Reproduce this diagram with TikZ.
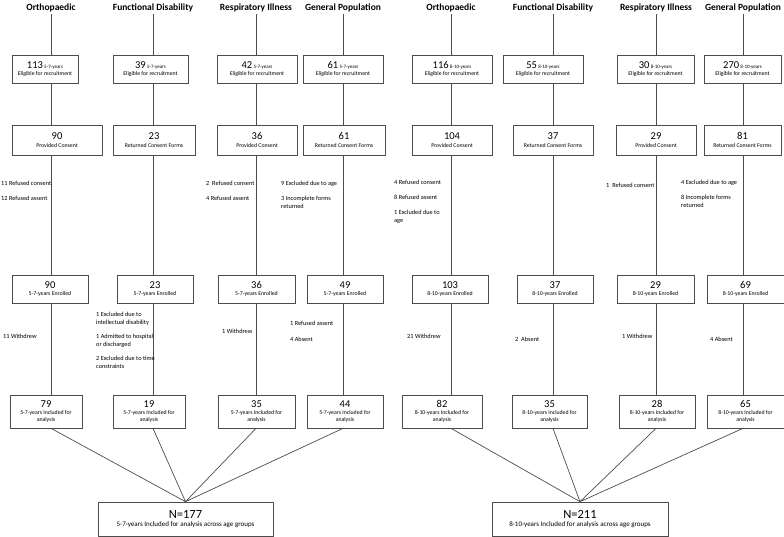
\documentclass[tikz,border=0pt]{standalone}
\usepackage{fontspec}
\setmainfont{Carlito}
\usepackage{tikz}
\usetikzlibrary{positioning,calc}

\newcommand{\bignum}[1]{{\fontsize{10.5}{12}\selectfont #1}}
\newcommand{\agetag}[1]{{\fontsize{5}{6}\selectfont #1}}

\begin{document}
\begin{tikzpicture}[x=1pt, y=-1pt,
    hdr/.style={font=\fontsize{9.5}{11}\selectfont\bfseries, inner sep=2pt},
    box/.style={rectangle, draw=black!70, line width=0.7pt, align=center, inner sep=1pt, font=\fontsize{5.8}{7}\selectfont},
    finalbox/.style={rectangle, draw=black!70, line width=0.7pt, align=center, minimum width=176pt, minimum height=34pt, font=\fontsize{7}{8.5}\selectfont},
    note/.style={anchor=north west, inner sep=0pt, align=left, font=\fontsize{6.3}{7.5}\selectfont},
    link/.style={draw=black!70, line width=0.7pt},
]
\useasboundingbox (0,0) rectangle (784,537);

% === HEADERS ===
\node[hdr] (hd1) at (51,8) {Orthopaedic};
\node[hdr] (hd2) at (153,8) {Functional Disability};
\node[hdr] (hd3) at (256,8) {Respiratory Illness};
\node[hdr] (hd4) at (343,8) {General Population};
\node[hdr] (hd5) at (451,8) {Orthopaedic};
\node[hdr] (hd6) at (553,8) {Functional Disability};
\node[hdr] (hd7) at (656,8) {Respiratory Illness};
\node[hdr] (hd8) at (743,8) {General Population};

% === ELIGIBLE ===
\node[box, minimum width=66pt, minimum height=28pt] (el1) at (45,69) {\bignum{113} \agetag{5-7-years}\\Eligible for recruitment};
\node[box, minimum width=75pt, minimum height=28pt] (el2) at (150.5,69) {\bignum{39} \agetag{5-7-years}\\Eligible for recruitment};
\node[box, minimum width=80pt, minimum height=28pt] (el3) at (257,69) {\bignum{42} \agetag{5-7-years}\\Eligible for recruitment};
\node[box, minimum width=80pt, minimum height=28pt] (el4) at (343,69) {\bignum{61} \agetag{5-7-years}\\Eligible for recruitment};
\node[box, minimum width=80pt, minimum height=28pt] (el5) at (452,69) {\bignum{116} \agetag{8-10-years}\\Eligible for recruitment};
\node[box, minimum width=80pt, minimum height=28pt] (el6) at (543,69) {\bignum{55} \agetag{8-10-years}\\Eligible for recruitment};
\node[box, minimum width=77pt, minimum height=28pt] (el7) at (655.5,69) {\bignum{30} \agetag{8-10-years}\\Eligible for recruitment};
\node[box, minimum width=77pt, minimum height=28pt] (el8) at (742.5,69) {\bignum{270} \agetag{8-10-years}\\Eligible for recruitment};

% === CONSENT ===
\node[box, minimum width=90pt, minimum height=30pt] (co1) at (57,140) {\bignum{90}\\[1pt]Provided Consent};
\node[box, minimum width=82pt, minimum height=30pt] (co2) at (154,140) {\bignum{23}\\[1pt]Returned Consent Forms};
\node[box, minimum width=80pt, minimum height=30pt] (co3) at (257,140) {\bignum{36}\\[1pt]Provided Consent};
\node[box, minimum width=82pt, minimum height=30pt] (co4) at (344,140) {\bignum{61}\\[1pt]Returned Consent Forms};
\node[box, minimum width=80pt, minimum height=30pt] (co5) at (452,140) {\bignum{104}\\[1pt]Provided Consent};
\node[box, minimum width=80pt, minimum height=30pt] (co6) at (553,140) {\bignum{37}\\[1pt]Returned Consent Forms};
\node[box, minimum width=80pt, minimum height=30pt] (co7) at (656,140) {\bignum{29}\\[1pt]Provided Consent};
\node[box, minimum width=77pt, minimum height=30pt] (co8) at (742.5,140) {\bignum{81}\\[1pt]Returned Consent Forms};

% === ENROLLED ===
\node[box, minimum width=76pt, minimum height=28pt] (en1) at (50,289) {\bignum{90}\\5-7-years Enrolled};
\node[box, minimum width=76pt, minimum height=28pt] (en2) at (155,289) {\bignum{23}\\5-7-years Enrolled};
\node[box, minimum width=77pt, minimum height=28pt] (en3) at (256.5,289) {\bignum{36}\\5-7-years Enrolled};
\node[box, minimum width=76pt, minimum height=28pt] (en4) at (345,289) {\bignum{49}\\5-7-years Enrolled};
\node[box, minimum width=76pt, minimum height=28pt] (en5) at (450,289) {\bignum{103}\\8-10-years Enrolled};
\node[box, minimum width=76pt, minimum height=28pt] (en6) at (555,289) {\bignum{37}\\8-10-years Enrolled};
\node[box, minimum width=77pt, minimum height=28pt] (en7) at (655.5,289) {\bignum{29}\\8-10-years Enrolled};
\node[box, minimum width=77pt, minimum height=28pt] (en8) at (745.5,289) {\bignum{69}\\8-10-years Enrolled};

% === INCLUDED ===
\node[box, minimum width=72pt, minimum height=33pt] (in1) at (46,411.5) {\bignum{79}\\5-7-years Included for\\analysis};
\node[box, minimum width=72pt, minimum height=33pt] (in2) at (149,411.5) {\bignum{19}\\5-7-years Included for\\analysis};
\node[box, minimum width=77pt, minimum height=33pt] (in3) at (256.5,411.5) {\bignum{35}\\5-7-years Included for\\analysis};
\node[box, minimum width=76pt, minimum height=33pt] (in4) at (345,411.5) {\bignum{44}\\5-7-years Included for\\analysis};
\node[box, minimum width=80pt, minimum height=33pt] (in5) at (442,411.5) {\bignum{82}\\8-10-years Included for\\analysis};
\node[box, minimum width=75pt, minimum height=33pt] (in6) at (549.5,411.5) {\bignum{35}\\8-10-years Included for\\analysis};
\node[box, minimum width=76pt, minimum height=33pt] (in7) at (657,411.5) {\bignum{28}\\8-10-years Included for\\analysis};
\node[box, minimum width=77pt, minimum height=33pt] (in8) at (745.5,411.5) {\bignum{65}\\8-10-years Included for\\analysis};

% === TOTALS ===
\node[finalbox, minimum width=175pt] (fin1) at (185.5,519) {{\fontsize{12.5}{14}\selectfont N=177}\\5-7-years Included for analysis across age groups};
\node[finalbox] (fin2) at (580,519) {{\fontsize{12.5}{14}\selectfont N=211}\\8-10-years Included for analysis across age groups};

% column lines
\draw[link] (hd1) -- (hd1 |- el1.north) (el1.south -| hd1) -- (co1.north -| hd1) (co1.south -| hd1) -- (en1.north -| hd1) (en1.south -| hd1) -- (in1.north -| hd1);
\draw[link] (hd2) -- (hd2 |- el2.north) (el2.south -| hd2) -- (co2.north -| hd2) (co2.south -| hd2) -- (en2.north -| hd2) (en2.south -| hd2) -- (in2.north -| hd2);
\draw[link] (hd3) -- (hd3 |- el3.north) (el3.south -| hd3) -- (co3.north -| hd3) (co3.south -| hd3) -- (en3.north -| hd3) (en3.south -| hd3) -- (in3.north -| hd3);
\draw[link] (hd4) -- (hd4 |- el4.north) (el4.south -| hd4) -- (co4.north -| hd4) (co4.south -| hd4) -- (en4.north -| hd4) (en4.south -| hd4) -- (in4.north -| hd4);
\draw[link] (hd5) -- (hd5 |- el5.north) (el5.south -| hd5) -- (co5.north -| hd5) (co5.south -| hd5) -- (en5.north -| hd5) (en5.south -| hd5) -- (in5.north -| hd5);
\draw[link] (hd6) -- (hd6 |- el6.north) (el6.south -| hd6) -- (co6.north -| hd6) (co6.south -| hd6) -- (en6.north -| hd6) (en6.south -| hd6) -- (in6.north -| hd6);
\draw[link] (hd7) -- (hd7 |- el7.north) (el7.south -| hd7) -- (co7.north -| hd7) (co7.south -| hd7) -- (en7.north -| hd7) (en7.south -| hd7) -- (in7.north -| hd7);
\draw[link] (hd8) -- (hd8 |- el8.north) (el8.south -| hd8) -- (co8.north -| hd8) (co8.south -| hd8) -- (en8.north -| hd8) (en8.south -| hd8) -- (in8.north -| hd8);

% converging lines
\draw[link] (in1.south -| hd1) -- (fin1.north) (in2.south -| hd2) -- (fin1.north) (in3.south -| hd3) -- (fin1.north) (in4.south -| hd4) -- (fin1.north);
\draw[link] (in5.south -| hd5) -- (fin2.north) (in6.south -| hd6) -- (fin2.north) (in7.south -| hd7) -- (fin2.north) (in8.south -| hd8) -- (fin2.north);

% exclusions, consent to enrolment
\node[note] (ex1) at (1,181) {11 Refused consent\\[7.5pt]12 Refused assent};
\node[note] (ex3) at (206,181) {2\ \ Refused consent\\[7.5pt]4 Refused assent};
\node[note] (ex4) at (281,181) {9 Excluded due to age\\[7.5pt]3 Incomplete forms\\returned};
\node[note] (ex5) at (394,180) {4 Refused consent\\[7.5pt]8 Refused assent\\[7.5pt]1 Excluded due to\\age};
\node[note] (ex7) at (606,183) {1\ \ Refused consent};
\node[note] (ex8) at (681,180) {4 Excluded due to age\\[7.5pt]8 Incomplete forms\\returned};

% exclusions, enrolment to analysis
\node[note] (wd1) at (3,334) {11 Withdrew};
\node[note] (wd2) at (96,312) {1 Excluded due to\\intellectual disability\\[7pt]1 Admitted to hospital\\or discharged\\[7pt]2 Excluded due to time\\constraints};
\node[note] (wd3) at (222,329) {1 Withdrew};
\node[note] (wd4) at (290,321) {1 Refused assent\\[8.5pt]4 Absent};
\node[note] (wd5) at (407,334) {21 Withdrew};
\node[note] (wd6) at (515,337) {2\ \ Absent};
\node[note] (wd7) at (622,334) {1 Withdrew};
\node[note] (wd8) at (710,337) {4 Absent};

\end{tikzpicture}
\end{document}
